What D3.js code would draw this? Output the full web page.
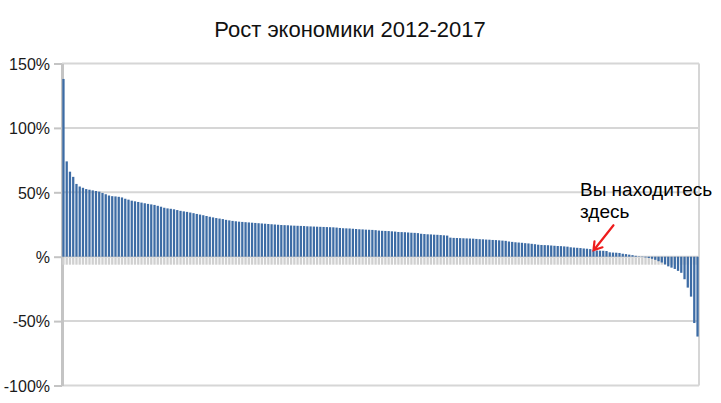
<!DOCTYPE html>
<html>
<head>
<meta charset="utf-8">
<script src="https://cdn.jsdelivr.net/npm/d3@7"></script>
<style>
  body { margin: 0; background: #fff; }
  text { font-family: 'Liberation Sans', Arial, sans-serif; }
</style>
</head>
<body>
<script>
// рост экономики по странам, %, отсортировано по убыванию
const growth = [
  138, 74, 66, 62, 56.5, 54.5, 53.5, 52.5, 52, 51.5, 51, 50.5, 49.5,
  48.5, 47.5, 47, 46.8, 46.5, 46, 45, 44.3,
  43.5, 43, 42.5, 42, 41.5, 41, 40.6, 40.2, 39.5, 38.8,
  38, 37.5, 37.2, 36.8, 36.2, 35.6, 35.2, 34.8, 34.3, 33.8, 33.2, 32.7,
  32.2, 31.6, 31, 30.5, 30, 29.6, 29.2, 28.6, 28.2,
  27.8, 27.5, 27.2, 27, 26.8, 26.6, 26.4, 26.2, 26, 25.8,
  25.6, 25.4, 25.2, 25, 24.8,
  24.6, 24.5, 24.4, 24.2, 24.1, 24, 23.9, 23.8,
  23.6, 23.5, 23.4, 23.3, 23.2, 23.1, 23, 22.9, 22.8, 22.6,
  22.3, 22.1, 22, 21.9, 21.7, 21.5,
  21.3, 21.2, 21, 20.9, 20.8, 20.6,
  20.3, 20.1, 20, 19.9, 19.7, 19.5,
  19.2, 19.1, 19, 18.8, 18.6, 18.5, 18.3,
  17.8, 17.6, 17.4, 17.3, 17.1, 17, 16.8, 16.6, 16.4,
  14.8, 14.6, 14.5, 14.4, 14.3, 14.2, 14.1,
  14, 13.8, 13.6, 13.5, 13.3, 13.2, 13, 12.9, 12.7, 12.5, 12.3,
  11.8, 11.5, 11.2, 11, 10.8, 10.5, 10.3, 10, 9.7,
  9.3, 9.1, 9, 8.9, 8.7, 8.5, 8.3, 8.2, 8, 7.8,
  7.3, 7.1, 6.9, 6.7, 6.4, 6.2, 5.9,
  5, 4.8, 4.7, 4.6, 4.4,
  3.4, 3.2, 3.1, 2.9,
  2.3, 2, 1.6, 1.2, 0.7,
  0.3, -0.3, -0.6, -1, -1.6, -2.4,
  -3.5, -4.5, -6, -7.5, -8.5, -9.5, -11, -12.5, -17.5, -24, -31, -51.5, -62
]
const yTicks = [-100, -50, 0, 50, 100, 150]
const title = 'Рост экономики 2012-2017'
const noteLines = ['Вы находитесь', 'здесь']
const youAreHere = 163

const width = 721
const height = 403
const plotLeft = 62
const plotRight = 699
const plotTop = 63.5
const plotBottom = 385.5

let svg = d3
  .select('body')
  .append('svg')
  .attr('width', width)
  .attr('height', height)

let x = d3
  .scaleBand()
  .domain(d3.range(growth.length))
  .range([plotLeft, plotRight])
  .paddingInner(0.3)
  .paddingOuter(0.1)

let y = d3
  .scaleLinear()
  .domain([-100, 150])
  .range([plotBottom, plotTop])

// сетка
svg
  .append('g')
  .selectAll('line')
  .data(yTicks)
  .enter()
  .append('line')
  .attr('x1', plotLeft)
  .attr('x2', plotRight)
  .attr('y1', d => y(d))
  .attr('y2', d => y(d))
  .style('stroke', '#d6d6d6')
  .style('stroke-width', 2)

svg
  .append('line')
  .attr('x1', plotRight)
  .attr('x2', plotRight)
  .attr('y1', y(150))
  .attr('y2', y(-100))
  .style('stroke', '#d6d6d6')
  .style('stroke-width', 2)

let yAxis = svg
  .append('g')
  .attr('transform', `translate(${plotLeft},0)`)
  .call(d3.axisLeft(y)
    .tickValues(yTicks)
    .tickSize(8)
    .tickSizeOuter(0)
    .tickPadding(4)
    .tickFormat(d => d === 0 ? '%' : d + '%'))

yAxis.select('.domain')
  .style('stroke', '#c4c4c4')
  .style('stroke-width', 3)

yAxis.selectAll('.tick line')
  .style('stroke', '#c4c4c4')
  .style('stroke-width', 2)

yAxis.selectAll('.tick text')
  .style('font-size', '16px')
  .style('fill', '#1a1a1a')
  .attr('dy', '0.36em')

// засечки категорий под нулём
svg
  .append('g')
  .selectAll('rect')
  .data(growth)
  .enter()
  .append('rect')
  .attr('x', (d, i) => x(i))
  .attr('y', y(0) + 1)
  .attr('width', x.bandwidth())
  .attr('height', 7)
  .style('fill', '#d0d0d0')

svg
  .append('g')
  .selectAll('rect')
  .data(growth)
  .enter()
  .append('rect')
  .attr('class', 'bar')
  .attr('x', (d, i) => x(i))
  .attr('y', d => y(Math.max(0, d)))
  .attr('width', x.bandwidth())
  .attr('height', d => Math.abs(y(d) - y(0)))
  .style('fill', '#3d6ca5')

svg
  .append('text')
  .attr('x', 350)
  .attr('y', 37)
  .attr('text-anchor', 'middle')
  .style('font-size', '22px')
  .style('fill', '#111')
  .text(title)

// подпись со стрелкой
let tipX = x(youAreHere) + x.bandwidth() / 2
let tipY = y(growth[youAreHere])

svg
  .append('g')
  .selectAll('text')
  .data(noteLines)
  .enter()
  .append('text')
  .attr('x', 580)
  .attr('y', (d, i) => 196 + i * 22)
  .style('font-size', '19px')
  .style('fill', '#000')
  .text(d => d)

svg
  .append('path')
  .attr('d', `M${tipX + 20},${tipY - 25} L${tipX + 1},${tipY - 1}` +
    ` M${tipX + 1},${tipY - 9} L${tipX},${tipY} L${tipX + 9},${tipY - 3}`)
  .style('fill', 'none')
  .style('stroke', '#ee1c1c')
  .style('stroke-width', 2.2)
  .style('stroke-linecap', 'round')
</script>
</body>
</html>
